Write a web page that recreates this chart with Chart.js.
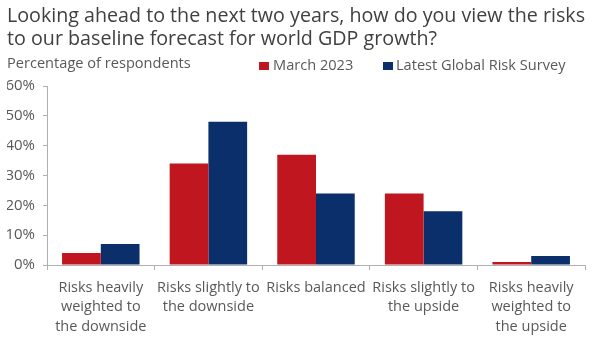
<!DOCTYPE html>
<html>
<head>
<meta charset="utf-8">
<script src="https://cdn.jsdelivr.net/npm/chart.js@4/dist/chart.umd.min.js"></script>
<style>
html,body{margin:0;padding:0;background:#fff;}
#wrap{width:600px;height:353px;position:relative;}
</style>
</head>
<body>
<div id="wrap"><canvas id="c" width="600" height="353"></canvas></div>
<script>
const titleLines = ['Looking ahead to the next two years, how do you view the risks', 'to our baseline forecast for world GDP growth?'];
const subtitleText = 'Percentage of respondents';
const categories = [
  ['Risks heavily', 'weighted to', 'the downside'],
  ['Risks slightly to', 'the downside'],
  ['Risks balanced'],
  ['Risks slightly to', 'the upside'],
  ['Risks heavily', 'weighted to', 'the upside']
];
const seriesNames = ['March 2023', 'Latest Global Risk Survey'];
const march2023 = [4, 34, 37, 24, 1];
const latestSurvey = [7, 48, 24, 18, 3];
const yTicks = [0, 10, 20, 30, 40, 50, 60];

const RED = '#C0161F';
const BLUE = '#0A2F6B';
const FONT = "'Open Sans', 'DejaVu Sans', sans-serif";
const TXT = '#595959';

const legendPlugin = {
  id: 'rowLegend',
  afterDraw(chart) {
    const ctx = chart.ctx;
    const pos = [{sq: 259, tx: 273}, {sq: 383, tx: 396}];
    ctx.save();
    ctx.font = "14.6px " + FONT;
    ctx.textBaseline = 'middle';
    ctx.textAlign = 'left';
    chart.data.datasets.forEach((ds, i) => {
      ctx.fillStyle = ds.backgroundColor;
      ctx.fillRect(pos[i].sq, 62, 10, 8);
      ctx.fillStyle = TXT;
      ctx.fillText(ds.label, pos[i].tx, 66);
    });
    ctx.restore();
  }
};

new Chart(document.getElementById('c'), {
  type: 'bar',
  data: {
    labels: categories,
    datasets: [
      {label: seriesNames[0], data: march2023, backgroundColor: RED, categoryPercentage: 0.72, barPercentage: 1.0},
      {label: seriesNames[1], data: latestSurvey, backgroundColor: BLUE, categoryPercentage: 0.72, barPercentage: 1.0}
    ]
  },
  options: {
    responsive: false,
    animation: false,
    devicePixelRatio: 1,
    layout: {padding: {left: 7, right: 15, top: 0, bottom: 0}},
    plugins: {
      legend: {display: false},
      tooltip: {enabled: false},
      title: {
        display: true,
        text: titleLines,
        align: 'start',
        color: '#404040',
        font: {family: FONT, size: 19.7, weight: 'normal', lineHeight: 23/19.7},
        padding: {top: 5, bottom: 0}
      },
      subtitle: {
        display: true,
        text: subtitleText,
        align: 'start',
        color: TXT,
        font: {family: FONT, size: 14.6, weight: 'normal', lineHeight: 1.2},
        padding: {top: 4, bottom: 13.5}
      }
    },
    scales: {
      x: {
        grid: {display: true, drawOnChartArea: false, drawTicks: true, tickLength: 5, color: '#b0b0b0', offset: true},
        border: {display: true, color: '#b0b0b0'},
        ticks: {color: TXT, font: {family: FONT, size: 14.5, lineHeight: 19.5/14.5}, padding: 8, maxRotation: 0, autoSkip: false},
        afterFit(s) { s.height = 88; }
      },
      y: {
        min: 0, max: 60,
        afterBuildTicks(s) { s.ticks = yTicks.map(v => ({value: v})); },
        grid: {display: true, drawOnChartArea: false, drawTicks: true, tickLength: 4, color: '#b0b0b0'},
        border: {display: true, color: '#b0b0b0'},
        ticks: {color: TXT, font: {family: FONT, size: 15}, padding: 8, callback: v => v + '%'},
        afterFit(s) { s.width = 40; }
      }
    }
  },
  plugins: [legendPlugin]
});
</script>
</body>
</html>
